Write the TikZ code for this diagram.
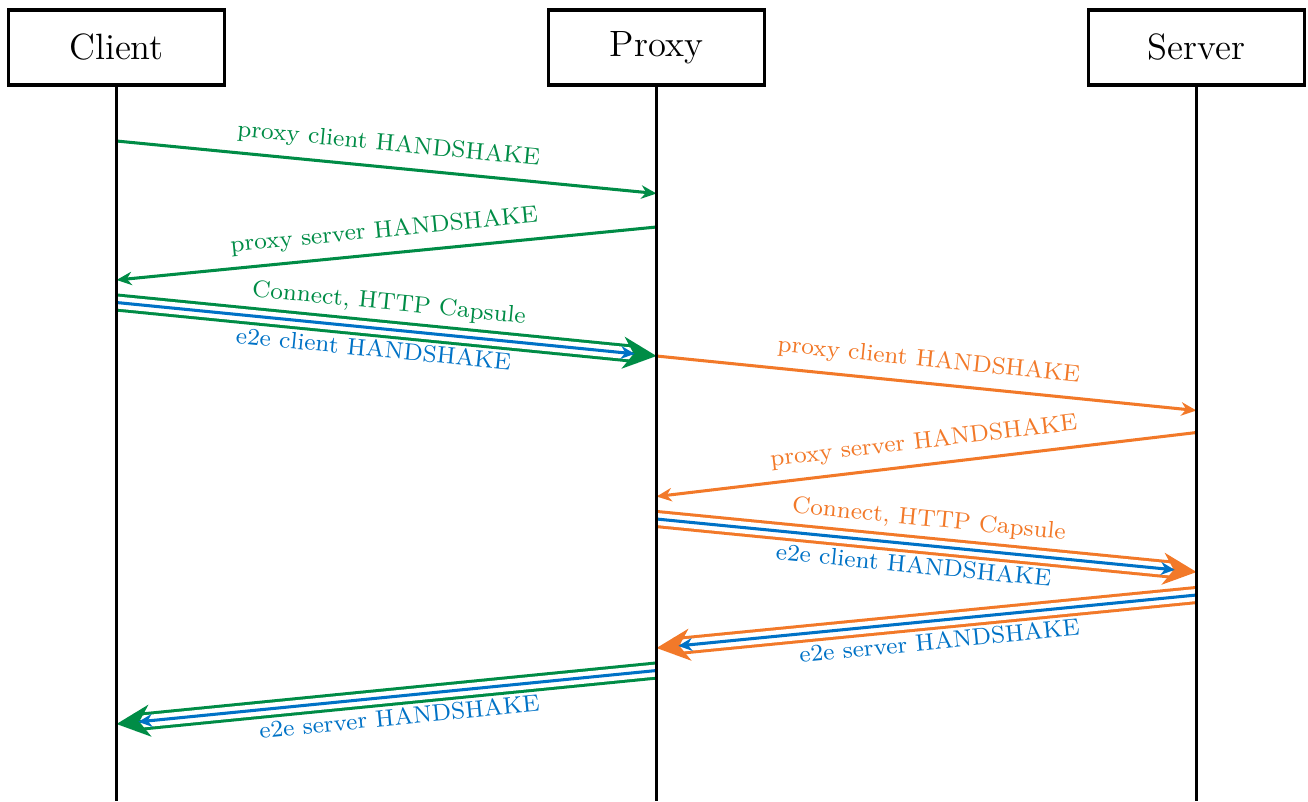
\documentclass[tikz,border=0pt]{standalone}
\usetikzlibrary{arrows.meta,calc}
\definecolor{grn}{RGB}{0,140,70}
\definecolor{org}{RGB}{242,121,41}
\definecolor{blu}{RGB}{0,114,198}
\begin{document}
\begin{tikzpicture}[x=0.328pt,y=-0.328pt,
  actor/.style={draw,line width=1pt,minimum width=71pt,minimum height=24.6pt,inner sep=0pt,font=\large},
  life/.style={line width=1pt},
  msg/.style={line width=1pt,-{Stealth[length=5pt,width=4.4pt,inset=1.6pt]}},
  lbl/.style={font=\fontsize{7.8pt}{9.4pt}\selectfont,sloped},
  dbl/.style={line width=1pt,double=white,double distance=3.94pt,shorten >=6pt},
  bighead/.style={line width=1pt,-{Stealth[length=11pt,width=10.5pt,inset=3.5pt]}},
  innerarrow/.style={blu,line width=1pt,-{Stealth[length=4.5pt,width=4.2pt,inset=1.4pt]},shorten >=7.2pt},
]
\useasboundingbox (0,0) rectangle (1308,801);
\node[actor] (client) at (116.5,47.5) {Client};
\node[actor] (proxy) at (656.5,47.5) {Proxy};
\node[actor] (server) at (1196.5,47.5) {Server};
\coordinate (cEnd) at (116.5,801);
\coordinate (pEnd) at (656.5,801);
\coordinate (sEnd) at (1196.5,801);

% message end points on the lifelines
\coordinate (m1s) at (116.5,141);   \coordinate (m1e) at (656.5,193.5);
\coordinate (m2s) at (656.5,227);   \coordinate (m2e) at (116.5,280);
\coordinate (m3s) at (116.5,302.5); \coordinate (m3e) at (656.5,356);
\coordinate (m4s) at (656.5,356);   \coordinate (m4e) at (1196.5,410.5);
\coordinate (m5s) at (1196.5,432.5);\coordinate (m5e) at (656.5,496.5);
\coordinate (m6s) at (656.5,519);   \coordinate (m6e) at (1196.5,572);
\coordinate (m7s) at (1196.5,595);  \coordinate (m7e) at (656.5,648);
\coordinate (m8s) at (656.5,670.5); \coordinate (m8e) at (116.5,724);

% 1
\draw[grn,msg] (m1s) -- node[lbl,above] {proxy client HANDSHAKE} (m1e);
% 2
\draw[grn,msg] (m2s) -- node[lbl,above] {proxy server HANDSHAKE} (m2e);
% 3
\draw[grn,dbl] (m3s) -- node[lbl,above=1pt] {Connect, HTTP Capsule} (m3e);
\draw[grn,bighead] ($(m3s)!0.95!(m3e)$) -- (m3e);
\draw[innerarrow] (m3s) -- node[lbl,below,pos=0.48] {e2e client HANDSHAKE} (m3e);
% 4
\draw[org,msg] (m4s) -- node[lbl,above] {proxy client HANDSHAKE} (m4e);
% 5
\draw[org,msg] (m5s) -- node[lbl,above] {proxy server HANDSHAKE} (m5e);
% 6
\draw[org,dbl] (m6s) -- node[lbl,above=1pt] {Connect, HTTP Capsule} (m6e);
\draw[org,bighead] ($(m6s)!0.95!(m6e)$) -- (m6e);
\draw[innerarrow] (m6s) -- node[lbl,below,pos=0.48] {e2e client HANDSHAKE} (m6e);
% 7
\draw[org,dbl] (m7s) -- (m7e);
\draw[org,bighead] ($(m7s)!0.95!(m7e)$) -- (m7e);
\draw[innerarrow] (m7s) -- node[lbl,below,pos=0.48] {e2e server HANDSHAKE} (m7e);
% 8
\draw[grn,dbl] (m8s) -- (m8e);
\draw[grn,bighead] ($(m8s)!0.95!(m8e)$) -- (m8e);
\draw[innerarrow] (m8s) -- node[lbl,below,pos=0.48] {e2e server HANDSHAKE} (m8e);

% lifelines
\draw[life] (client.south) -- (cEnd);
\draw[life] (proxy.south) -- (pEnd);
\draw[life] (server.south) -- (sEnd);
\end{tikzpicture}
\end{document}
